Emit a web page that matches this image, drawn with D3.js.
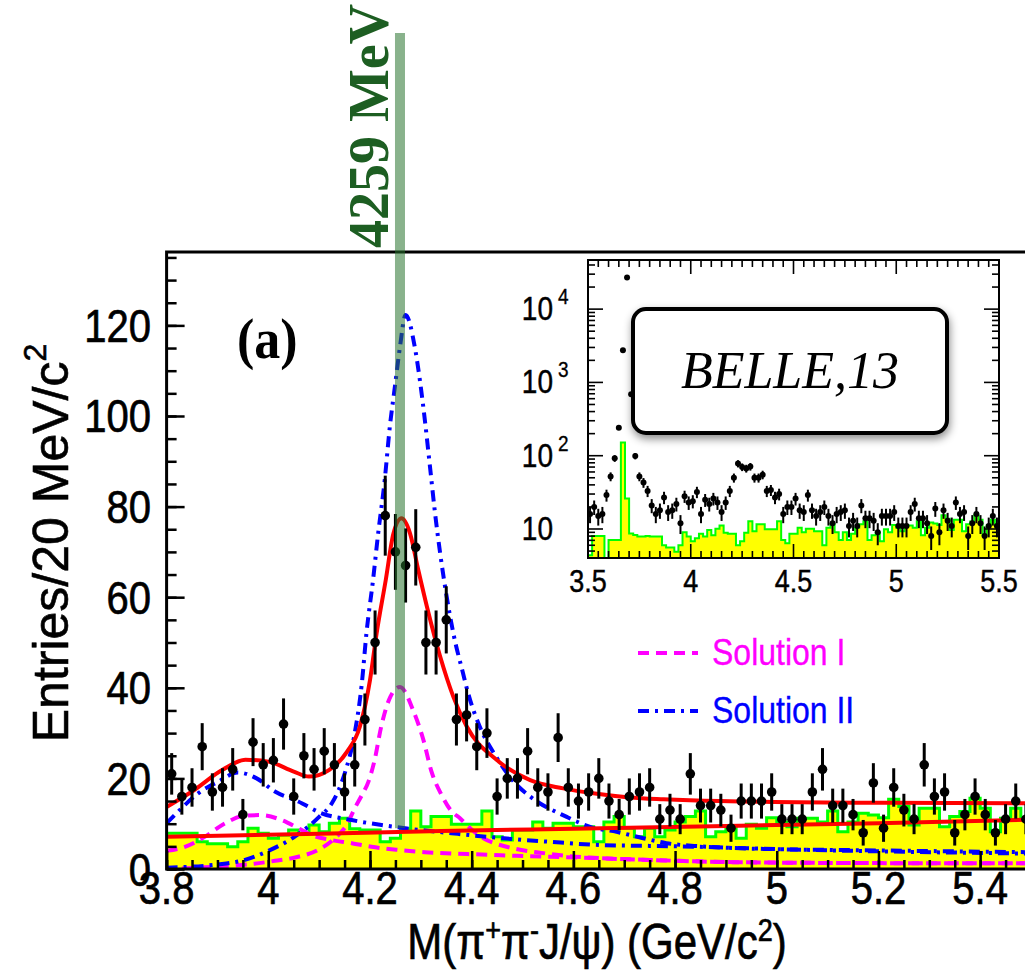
<!DOCTYPE html>
<html>
<head>
<meta charset="utf-8">
<script src="https://cdn.jsdelivr.net/npm/d3@7"></script>
<style>
  body { margin: 0; background: #fff; }
  text { font-family: 'Liberation Sans', Arial, sans-serif; }
</style>
</head>
<body>
<svg id="chart" width="1025" height="973"></svg>
<script>
// ---------------- data ----------------
// M(pi+ pi- J/psi) in 20 MeV bins starting at 3.80 GeV/c^2
const massLo = 3.80;
const binWidth = 0.02;

// signal-region entries per bin (3.81 ... 5.49)
const counts = [
  21, 16, 18, 27, 17, 18, 22, 12, 28, 23,
  24, 32, 16, 25, 22, 26, 23, 17, 23, 33,
  50, 78, 70, 67, 71, 50, 50, 55, 33, 34,
  27, 30, 16, 20, 20, 26, 18, 17, 29, 18,
  15, 17, 20, 15, 12, 16, 17, 18, 11, 13,
  11, 21, 14, 14, 13, 9, 15, 15, 15, 17,
  11, 11, 11, 17, 22, 14, 14, 12, 8, 19,
  9, 18, 13, 11, 23, 16, 17, 8, 12, 16,
  12, 8, 11, 15, 11
];

// J/psi-sideband estimate per bin (same binning)
const sideband = [
  7.9, 7.9, 7.9, 6.0, 5.6, 5.6, 4.9, 6.0, 9.0, 7.9,
  6.8, 7.5, 8.6, 7.9, 9.7, 8.2, 10.1, 11.2, 8.9, 8.6,
  8.6, 6.0, 6.8, 8.9, 12.8, 9.3, 11.6, 11.6, 9.9, 9.9,
  9.9, 12.8, 7.1, 6.4, 8.6, 8.6, 10.4, 9.0, 10.1, 10.1,
  9.3, 9.3, 6.0, 10.4, 11.6, 9.0, 7.1, 9.0, 7.1, 8.6,
  10.4, 11.6, 12.8, 7.1, 8.2, 9.0, 6.8, 9.9, 9.0, 11.3,
  10.4, 9.3, 11.2, 11.2, 10.4, 12.8, 8.2, 10.4, 12.3, 11.9,
  11.3, 15.4, 13.8, 9.7, 13.4, 13.4, 9.3, 11.6, 12.7, 15.6,
  13.4, 8.2, 11.2, 13.4, 11.2
];

// extra bins shown only in the wide-range inset (3.51 ... 3.79)
const insetLo = 3.50;
const lowMassCounts = [16, 20, 15, 16, 29, 52, 92, 241, 2750, 27000, 690, 99, 52, 43, 33];
const lowMassSideband = [4.4, 8.0, 8.0, 8.0, 3.0, 7.1, 7.1, 7.1, 152, 26, 8.7, 8.3, 7.9, 7.9, 8.0];

// fit curves, [mass, entries]
const fitTotal = [
  [3.80, 13.7], [3.85, 17.1], [3.91, 21.9], [3.955, 24.1], [4.00, 23.7], [4.05, 21.5],
  [4.08, 20.4], [4.12, 21.9], [4.155, 25.9], [4.18, 31.4], [4.20, 41.7], [4.213, 52],
  [4.231, 63.8], [4.246, 74], [4.262, 77.4], [4.279, 74], [4.295, 66], [4.312, 57.9],
  [4.338, 46.9], [4.364, 38], [4.39, 31.5], [4.449, 24.1], [4.515, 19.6], [4.58, 17.8],
  [4.646, 16.6], [4.711, 15.8], [4.777, 15.4], [4.888, 15.0], [5.216, 14.6], [5.50, 14.5]
];
const fitBackground = [
  [3.80, 7.1], [4.10, 7.8], [4.34, 8.4], [4.60, 8.9], [4.90, 9.5], [5.20, 10.1], [5.50, 10.9]
];
// Solution I components
const sol1Y4008 = [
  [3.80, 4.0], [3.836, 4.9], [3.875, 7.1], [3.915, 10.1], [3.954, 11.8], [3.987, 11.9],
  [4.026, 10.8], [4.059, 9.0], [4.085, 7.5], [4.124, 6.4], [4.164, 5.7], [4.203, 4.9],
  [4.256, 4.2], [4.308, 3.7], [4.36, 3.4], [4.42, 3.2], [4.488, 2.9], [4.62, 2.5],
  [4.75, 2.0], [4.92, 1.5], [5.20, 1.3], [5.50, 1.25]
];
const sol1Y4260 = [
  [3.83, 0.1], [3.895, 0.5], [3.96, 1.0], [4.013, 1.8], [4.059, 2.7], [4.098, 4.2],
  [4.131, 6.8], [4.154, 9.7], [4.17, 13.4], [4.184, 16.3], [4.197, 19.3], [4.209, 24],
  [4.222, 31.4], [4.24, 38], [4.259, 40.2], [4.285, 35], [4.305, 28.5], [4.321, 21.5],
  [4.341, 16.3], [4.36, 12.8], [4.377, 11.2], [4.397, 9.0], [4.423, 6.8], [4.456, 5.3],
  [4.488, 4.4], [4.528, 3.7], [4.587, 2.9], [4.652, 2.4], [4.75, 2.0], [4.92, 1.5],
  [5.20, 1.3], [5.50, 1.25]
];
// Solution II components
const sol2Y4008 = [
  [3.80, 10.1], [3.823, 12.7], [3.862, 16.7], [3.902, 19.3], [3.94, 21.3], [3.977, 20],
  [4.013, 17.1], [4.059, 14.9], [4.105, 12.3], [4.164, 10.8], [4.223, 9.7], [4.269, 9.0],
  [4.36, 7.9], [4.43, 7.1], [4.554, 6.0], [4.652, 5.3], [4.75, 5.1], [4.849, 4.9],
  [4.95, 4.5], [5.20, 4.1], [5.50, 3.7]
];
const sol2Y4260 = [
  [3.80, 0.3], [3.90, 1.0], [3.954, 2.0], [4.00, 4.0], [4.05, 7.0], [4.10, 11.5],
  [4.125, 14.5], [4.15, 21], [4.17, 30], [4.184, 41], [4.193, 52], [4.206, 63.8],
  [4.216, 74], [4.229, 85.9], [4.239, 97.6], [4.249, 106.5], [4.259, 115.3], [4.27, 122.3],
  [4.288, 115.3], [4.298, 108], [4.308, 99], [4.318, 88.8], [4.328, 78.5], [4.338, 69.7],
  [4.351, 60], [4.364, 52], [4.383, 43.2], [4.393, 38.8], [4.416, 31.4], [4.448, 24.8],
  [4.485, 19], [4.515, 16], [4.587, 11.5], [4.633, 9.3], [4.685, 8.2], [4.737, 6.8],
  [4.783, 5.7], [4.85, 5.0], [5.00, 4.4], [5.20, 3.9], [5.50, 3.4]
];

// axis ticks
const xMajorTicks = [3.8, 4.0, 4.2, 4.4, 4.6, 4.8, 5.0, 5.2, 5.4];
const yMajorTicks = [0, 20, 40, 60, 80, 100, 120];
const insetXTicks = [3.5, 4.0, 4.5, 5.0, 5.5];
const insetYDecades = [1, 2, 3, 4];

// annotations
const markMass = 4.259;          // GeV/c^2
const markLabel = "4259 MeV";
const panelLabel = "(a)";
const expLabel = "BELLE,13";
const legendItems = [
  { label: "Solution I",  color: "#ff00ff", dash: "11,7" },
  { label: "Solution II", color: "#0000ff", dash: "11,6,3,6" }
];

// ---------------- helpers ----------------
const SANS = "'Liberation Sans', Arial, sans-serif";
const SERIF = "'Liberation Serif', 'Times New Roman', serif";
const STRETCH = 1.17;   // ROOT text is drawn slightly tall

function label(parent, px, py, txt, size, anchor, color) {
  const c = color || "#000";
  return parent.append("text")
    .attr("transform", `translate(${px},${py}) scale(1,${STRETCH})`)
    .attr("text-anchor", anchor || "start")
    .style("font-family", SANS)
    .attr("font-size", size).attr("fill", c)
    .attr("stroke", c).attr("stroke-width", 0.6)
    .text(txt);
}

// ---------------- drawing ----------------
const svg = d3.select("#chart");
svg.append("rect").attr("width", 1025).attr("height", 973).attr("fill", "#fff");

const x = d3.scaleLinear().domain([3.8, 5.5]).range([166.6, 1031]);
const y = d3.scaleLinear().domain([0, 136.2]).range([869, 252]);

const defs = svg.append("defs");
defs.append("clipPath").attr("id", "plotClip")
  .append("rect").attr("x", 167).attr("y", 252).attr("width", 870).attr("height", 617);

const plot = svg.append("g").attr("clip-path", "url(#plotClip)");

const binEdges = (lo, vals) => vals.map((v, i) => [lo + i * binWidth, v])
  .concat([[lo + vals.length * binWidth, vals[vals.length - 1]]]);

// sideband histogram
const sbSteps = binEdges(massLo, sideband);
plot.append("path")
  .datum(sbSteps)
  .attr("fill", "#ffff00")
  .attr("d", d3.area().curve(d3.curveStepAfter)
    .x(d => x(d[0])).y0(y(0)).y1(d => y(d[1])));
plot.append("path")
  .datum(sbSteps)
  .attr("fill", "none").attr("stroke", "#00ff00").attr("stroke-width", 3)
  .attr("d", d3.line().curve(d3.curveStepAfter).x(d => x(d[0])).y(d => y(d[1])));

// fit curves
const curve = d3.line().curve(d3.curveMonotoneX).x(d => x(d[0])).y(d => y(d[1]));
const drawCurve = (data, color, dash, w) => plot.append("path")
  .datum(data).attr("d", curve)
  .attr("fill", "none").attr("stroke", color).attr("stroke-width", w)
  .attr("stroke-dasharray", dash || null).attr("stroke-linejoin", "round");

drawCurve(sol1Y4008, "#ff00ff", "11,7", 4);
drawCurve(sol1Y4260, "#ff00ff", "11,7", 4);
drawCurve(sol2Y4008, "#0000ff", "11,6,3,6", 4);
drawCurve(sol2Y4260, "#0000ff", "11,6,3,6", 4);
drawCurve(fitBackground, "#ff0000", null, 4);
drawCurve(fitTotal, "#ff0000", null, 4);

// data points with Poisson errors
const pts = counts.map((n, i) => ({ m: massLo + (i + 0.5) * binWidth, n }));
const gPts = plot.append("g");
gPts.selectAll("line").data(pts).join("line")
  .attr("x1", d => x(d.m)).attr("x2", d => x(d.m))
  .attr("y1", d => y(d.n - Math.sqrt(d.n))).attr("y2", d => y(d.n + Math.sqrt(d.n)))
  .attr("stroke", "#000").attr("stroke-width", 3);
gPts.selectAll("circle").data(pts).join("circle")
  .attr("cx", d => x(d.m)).attr("cy", d => y(d.n)).attr("r", 4.8).attr("fill", "#000");

// axes (ROOT style, ticks inside the frame)
const xMinor = d3.range(3.8, 5.5001, 0.05);
const yMinor = d3.range(0, 136, 5);
const gAx = svg.append("g");
gAx.append("g").attr("transform", `translate(0,${y(0)})`)
  .call(d3.axisBottom(x).tickValues(xMinor).tickSize(-9).tickFormat(""))
  .call(g => g.select(".domain").remove());
gAx.append("g").attr("transform", `translate(0,${y(0)})`)
  .call(d3.axisBottom(x).tickValues(xMajorTicks).tickSize(-18).tickFormat(""))
  .call(g => g.select(".domain").remove());
gAx.append("g").attr("transform", `translate(${x(3.8)},0)`)
  .call(d3.axisLeft(y).tickValues(yMinor).tickSize(-10).tickFormat(""))
  .call(g => g.select(".domain").remove());
gAx.append("g").attr("transform", `translate(${x(3.8)},0)`)
  .call(d3.axisLeft(y).tickValues(yMajorTicks).tickSize(-18).tickFormat(""))
  .call(g => g.select(".domain").remove());
gAx.selectAll(".tick line").attr("stroke", "#000").attr("stroke-width", 2.5);

const fmtX = d3.format("~g");
xMajorTicks.forEach(v => label(gAx, x(v), 904, fmtX(v), 40, "middle"));
yMajorTicks.forEach(v => label(gAx, 151, y(v) + 16.5, String(v), 40, "end"));

// frame
gAx.append("path")
  .attr("d", `M1025,${y(136.2)}H${x(3.8)}V${y(0)}H1025`)
  .attr("fill", "none").attr("stroke", "#000").attr("stroke-width", 3);

// axis titles
const yTitle = svg.append("text")
  .attr("transform", `translate(68,543) rotate(-90)`)
  .attr("text-anchor", "middle").style("font-family", SANS)
  .attr("font-size", 50).attr("fill", "#000")
  .attr("stroke", "#000").attr("stroke-width", 0.6);
yTitle.append("tspan").text("Entries/20 MeV/c");
yTitle.append("tspan").attr("dy", -22).attr("font-size", 32).text("2");

const xTitle = svg.append("text")
  .attr("transform", `translate(597,959) scale(1,${STRETCH})`)
  .attr("text-anchor", "middle").style("font-family", SANS)
  .attr("font-size", 42).attr("fill", "#000")
  .attr("stroke", "#000").attr("stroke-width", 0.6);
xTitle.append("tspan").text("M(π");
xTitle.append("tspan").attr("dy", -15).attr("font-size", 27).text("+");
xTitle.append("tspan").attr("dy", 15).text("π");
xTitle.append("tspan").attr("dy", -15).attr("font-size", 27).text("-");
xTitle.append("tspan").attr("dy", 15).text("J/ψ) (GeV/c");
xTitle.append("tspan").attr("dy", -15).attr("font-size", 27).text("2");
xTitle.append("tspan").attr("dy", 15).text(")");

// panel label
svg.append("text")
  .attr("transform", `translate(237,358) scale(1,1.1)`)
  .style("font-family", SERIF)
  .attr("font-weight", "bold").attr("font-size", 52).attr("fill", "#000")
  .text(panelLabel);

// legend
const legend = svg.append("g");
legendItems.forEach((d, i) => {
  const ly = 653 + i * 58;
  legend.append("line").attr("x1", 638).attr("x2", 698)
    .attr("y1", ly).attr("y2", ly)
    .attr("stroke", d.color).attr("stroke-width", 4).attr("stroke-dasharray", d.dash);
  label(legend, 712, ly + 12, d.label, 32, "start", d.color).attr("stroke-width", 0.3);
});

// ---------------- inset: full range, log scale ----------------
const ix = d3.scaleLinear().domain([3.5, 5.5]).range([588, 999]);
const iy = d3.scaleLog().domain([4.02, 46800]).range([558, 260]);
defs.append("clipPath").attr("id", "insetClip")
  .append("rect").attr("x", 588).attr("y", 260).attr("width", 411).attr("height", 298);

const inset = svg.append("g");
inset.append("rect").attr("x", 588).attr("y", 260).attr("width", 411).attr("height", 298)
  .attr("fill", "#fff");
const inPlot = inset.append("g").attr("clip-path", "url(#insetClip)");

const insetSide = binEdges(insetLo, lowMassSideband.concat(sideband));
inPlot.append("path").datum(insetSide).attr("fill", "#ffff00")
  .attr("d", d3.area().curve(d3.curveStepAfter)
    .x(d => ix(d[0])).y0(560).y1(d => iy(Math.max(d[1], 1))));
inPlot.append("path").datum(insetSide)
  .attr("fill", "none").attr("stroke", "#00ff00").attr("stroke-width", 2)
  .attr("d", d3.line().curve(d3.curveStepAfter).x(d => ix(d[0])).y(d => iy(Math.max(d[1], 1))));

const insetPts = lowMassCounts.concat(counts)
  .map((n, i) => ({ m: insetLo + (i + 0.5) * binWidth, n }));
inPlot.selectAll("line.err").data(insetPts).join("line").attr("class", "err")
  .attr("x1", d => ix(d.m)).attr("x2", d => ix(d.m))
  .attr("y1", d => iy(Math.max(d.n - Math.sqrt(d.n), 1))).attr("y2", d => iy(d.n + Math.sqrt(d.n)))
  .attr("stroke", "#000").attr("stroke-width", 2);
inPlot.selectAll("circle").data(insetPts).join("circle")
  .attr("cx", d => ix(d.m)).attr("cy", d => iy(d.n)).attr("r", 3).attr("fill", "#000");

// inset ticks on all four sides
const insetXMinor = d3.range(3.5, 5.5001, 0.05);
const insetYMinor = [];
[0, 1, 2, 3, 4].forEach(p => d3.range(2, 10).forEach(k => {
  const v = k * Math.pow(10, p);
  if (v > 4.02 && v < 46800) insetYMinor.push(v);
}));
const insetYMajor = insetYDecades.map(p => Math.pow(10, p));
const tickG = inset.append("g").attr("stroke", "#000").attr("stroke-width", 1.6);
insetXMinor.forEach(v => {
  const big = insetXTicks.some(t => Math.abs(t - v) < 1e-6);
  const len = big ? 14 : 7;
  tickG.append("line").attr("x1", ix(v)).attr("x2", ix(v)).attr("y1", 558).attr("y2", 558 - len);
  tickG.append("line").attr("x1", ix(v)).attr("x2", ix(v)).attr("y1", 260).attr("y2", 260 + len);
});
insetYMinor.concat(insetYMajor).forEach(v => {
  const big = insetYMajor.includes(v);
  const len = big ? 15 : 7;
  tickG.append("line").attr("x1", 588).attr("x2", 588 + len).attr("y1", iy(v)).attr("y2", iy(v));
  tickG.append("line").attr("x1", 999).attr("x2", 999 - len).attr("y1", iy(v)).attr("y2", iy(v));
});
inset.append("rect").attr("x", 588).attr("y", 260).attr("width", 411).attr("height", 298)
  .attr("fill", "none").attr("stroke", "#000").attr("stroke-width", 2);

insetXTicks.forEach(v => label(inset, ix(v), 592, fmtX(v), 27, "middle").attr("stroke-width", 0.4));
insetYDecades.forEach(p => {
  const py = iy(Math.pow(10, p));
  label(inset, 553, py + 11, "10", 28, "end").attr("stroke-width", 0.4);
  if (p > 1) label(inset, 558, py - 5, String(p), 19, "start").attr("stroke-width", 0.3);
});

// experiment tag
const shadow = defs.append("filter").attr("id", "shadow")
  .attr("x", "-10%").attr("y", "-10%").attr("width", "130%").attr("height", "140%");
shadow.append("feDropShadow").attr("dx", 1).attr("dy", 4).attr("stdDeviation", 4)
  .attr("flood-color", "#000").attr("flood-opacity", 0.45);
inset.append("rect").attr("x", 633).attr("y", 309).attr("width", 314).attr("height", 124)
  .attr("rx", 13).attr("fill", "#fff").attr("stroke", "#000").attr("stroke-width", 4)
  .attr("filter", "url(#shadow)");
inset.append("text").attr("x", 790).attr("y", 388).attr("text-anchor", "middle")
  .style("font-family", SERIF)
  .attr("font-style", "italic").attr("font-size", 52).attr("fill", "#000")
  .text(expLabel);

// ---------------- mass marker band ----------------
const bandX = x(markMass);
svg.append("rect").attr("x", bandX - 5).attr("y", 33).attr("width", 10)
  .attr("height", y(9) - 33)
  .attr("fill", "rgb(40,115,45)").attr("fill-opacity", 0.55);
svg.append("text")
  .attr("transform", `translate(${bandX - 12},248) rotate(-90)`)
  .style("font-family", SERIF)
  .attr("font-weight", "bold").attr("font-size", 56).attr("fill", "#1d5e22")
  .text(markLabel);
</script>
</body>
</html>
